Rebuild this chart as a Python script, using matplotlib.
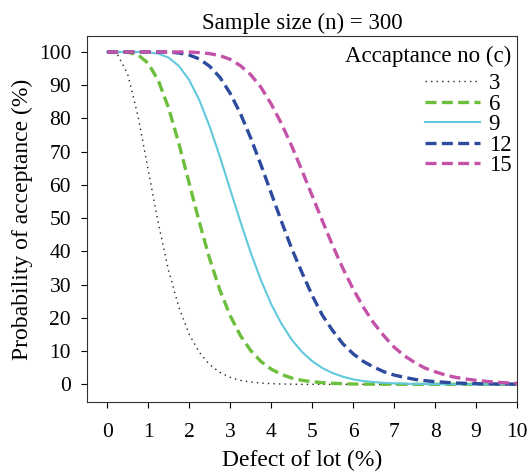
import matplotlib
matplotlib.use("Agg")
import matplotlib.pyplot as plt
import numpy as np

# Defect of lot (%) - read every 0.25 %
defect = np.arange(0, 10.01, 0.25)

# Probability of acceptance (%), one list per acceptance no (c)
pa_c3 = [100, 99.3, 93.4, 80.9, 64.7, 48.4, 34.2, 23.2, 15.1, 9.6, 5.9, 3.6, 2.1, 1.2,
         0.7, 0.4, 0.2, 0.1, 0.05] + [0] * 22
pa_c6 = [100, 100, 99.9, 99.2, 96.6, 91.4, 83.1, 72.5, 60.6, 48.8, 37.8, 28.4, 20.7,
         14.7, 10.2, 6.9, 4.6, 3.0, 1.9, 1.2, 0.8, 0.5, 0.3, 0.2, 0.1, 0.07, 0.05, 0.03,
         0.02] + [0] * 12
pa_c9 = [100, 100, 100, 100, 99.9, 99.5, 98.3, 95.8, 91.6, 85.5, 77.6, 68.5, 58.7, 49.0,
         39.7, 31.4, 24.2, 18.3, 13.5, 9.8, 7.0, 4.9, 3.4, 2.3, 1.5, 1.0, 0.7, 0.45, 0.3,
         0.2, 0.1, 0.07, 0.05] + [0] * 8
pa_c12 = [100, 100, 100, 100, 100, 100, 100, 99.7, 99.1, 97.9, 95.7, 92.4, 87.6, 81.5,
          74.2, 66.1, 57.6, 49.1, 40.9, 33.7, 26.8, 20.8, 16.2, 12.2, 9.2, 6.9, 5.2, 3.8,
          2.8, 2.1, 1.5, 1.1, 0.8, 0.6, 0.4, 0.3, 0.2, 0.15, 0.1, 0.07, 0.05]
pa_c15 = [100, 100, 100, 100, 100, 100, 100, 100, 100, 99.8, 99.5, 98.9, 97.8, 95.9,
          93.2, 89.4, 84.4, 78.5, 71.8, 64.4, 56.8, 49.2, 41.8, 34.9, 28.7, 23.2, 18.5,
          14.6, 11.2, 8.6, 6.6, 4.9, 3.8, 2.8, 2.1, 1.6, 1.2, 0.9, 0.6, 0.45, 0.3]

labels = ["3", "6", "9", "12", "15"]

plt.rcParams["font.family"] = ["Liberation Serif", "DejaVu Serif"]
plt.rcParams["font.size"] = 15.5

fig = plt.figure(figsize=(5.29, 4.74), dpi=100)
ax = fig.add_axes([0.1645, 0.152, 0.813, 0.772])

dash = (0, (3.3, 1.6))
ax.plot(defect, pa_c3, color="#222222", lw=1.0, linestyle=(0, (1, 3)), label=labels[0])
ax.plot(defect, pa_c6, color="#6cbf3c", lw=2.4, linestyle=dash, label=labels[1])
ax.plot(defect, pa_c9, color="#62c9dc", lw=1.5, linestyle="-", label=labels[2])
ax.plot(defect, pa_c12, color="#2c4a9e", lw=2.4, linestyle=dash, label=labels[3])
ax.plot(defect, pa_c15, color="#c452a8", lw=2.4, linestyle=dash, label=labels[4])

ax.set_xlim(-0.49, 10)
ax.set_ylim(-5.3, 104.8)
ax.set_xticks(range(0, 11))
ax.set_yticks(range(0, 101, 10))
ax.tick_params(axis="x", direction="out", length=4, pad=11, labelsize=15.5)
ax.tick_params(axis="y", direction="out", length=4, pad=7.5, labelsize=15.5)
for s in ax.spines.values():
    s.set_linewidth(0.8)
    s.set_color("#333333")

ax.set_title("Sample size (n) = 300", pad=5, fontsize=16.5)
ax.set_xlabel("Defect of lot (%)", labelpad=6, fontsize=17)
ax.set_ylabel("Probability of acceptance (%)", labelpad=4, fontsize=17)

leg = ax.legend(title="Accaptance no (c)", loc="upper right", bbox_to_anchor=(1.0, 0.989),
                frameon=False, alignment="right", handlelength=2.36, handletextpad=0.4,
                labelspacing=-0.02, borderaxespad=0.15, borderpad=0.1,
                title_fontsize=16.5, fontsize=16.5)
# a bit more room between the legend title and the entries
leg._legend_box.sep = 4.3

fig.savefig("out.png", dpi=100)
